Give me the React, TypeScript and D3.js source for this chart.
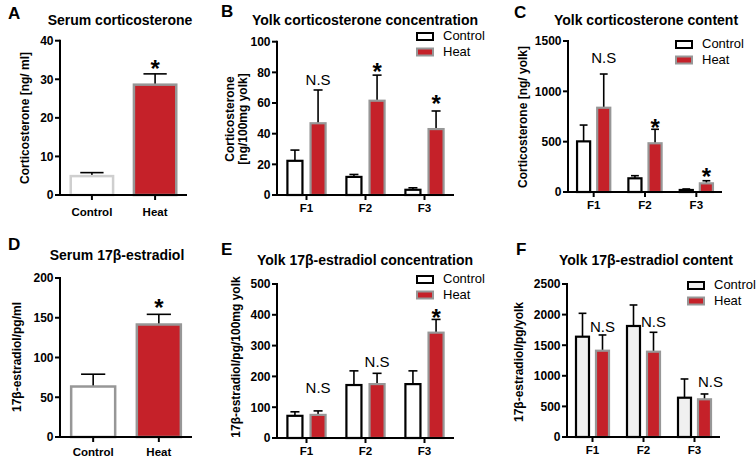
import React from 'react';
import * as d3 from 'd3';

// ---------- data ----------
const treatments = ['Control', 'Heat'];
const fractions = ['F1', 'F2', 'F3'];

// A: serum corticosterone (ng/ml)
const serumCortMean = [4.9, 28.6];
const serumCortSem = [0.9, 2.8];
const serumCortAnn = ['', '*'];
const serumCortAnnLevel = [0, 34];

// B: yolk corticosterone concentration (ng/100mg yolk)
const yolkCortConcControl = [22.3, 11.8, 3.4];
const yolkCortConcControlSem = [7.0, 1.6, 1.3];
const yolkCortConcHeat = [46.8, 61.5, 43.0];
const yolkCortConcHeatSem = [21.7, 16.7, 11.8];
const yolkCortConcAnn = ['N.S', '*', '*'];
const yolkCortConcAnnLevel = [71.7, 83.5, 62.6];

// C: yolk corticosterone content (ng/yolk)
const yolkCortContControl = [503, 136, 20];
const yolkCortContControlSem = [162, 26, 10];
const yolkCortContHeat = [837, 484, 86];
const yolkCortContHeatSem = [335, 139, 26];
const yolkCortContAnn = ['N.S', '*', '*'];
const yolkCortContAnnLevel = [1281, 685, 199];

// D: serum 17β-estradiol (pg/ml)
const serumE2Mean = [63.5, 141.5];
const serumE2Sem = [15.5, 12.8];
const serumE2Ann = ['', '*'];
const serumE2AnnLevel = [0, 168];

// E: yolk 17β-estradiol concentration (pg/100mg yolk)
const yolkE2ConcControl = [72, 172, 175];
const yolkE2ConcControlSem = [13, 46, 43];
const yolkE2ConcHeat = [75, 175, 342];
const yolkE2ConcHeatSem = [13, 35, 43];
const yolkE2ConcAnn = ['N.S', 'N.S', '*'];
const yolkE2ConcAnnLevel = [146, 230, 407];

// F: yolk 17β-estradiol content (pg/yolk)
const yolkE2ContControl = [1639, 1814, 642];
const yolkE2ContControlSem = [382, 343, 306];
const yolkE2ContHeat = [1410, 1394, 616];
const yolkE2ContHeatSem = [257, 317, 87];
const yolkE2ContAnn = ['N.S', 'N.S', 'N.S'];
const yolkE2ContAnnLevel = [1716, 1797, 817];

// ---------- styles ----------
const FONT = "'Liberation Sans', Arial, Helvetica, sans-serif";
const RED = '#c52129';
const HEAT_STROKE = '#979797';
const heatStyle = { fill: RED, stroke: HEAT_STROKE };

type Style = { fill: string; stroke: string };

function YAxis({ y, x0, ticks }: { y: d3.ScaleLinear<number, number>; x0: number; ticks: number[] }) {
  return (
    <g>
      <line x1={x0} x2={x0} y1={y(0) + 1} y2={y(ticks[ticks.length - 1]) - 1} stroke="#000" strokeWidth={2} />
      {ticks.map((t) => (
        <g key={t}>
          <line x1={x0 - 5} x2={x0} y1={y(t)} y2={y(t)} stroke="#000" strokeWidth={2} />
          <text x={x0 - 6.5} y={y(t)} dy="0.36em" textAnchor="end" fontSize={12} fontWeight="bold">
            {t}
          </text>
        </g>
      ))}
    </g>
  );
}

function YLabel({ x, y, lines }: { x: number; y: number; lines: string[] }) {
  return (
    <g transform={`translate(${x},${y}) rotate(-90)`}>
      {lines.map((l, i) => (
        <text key={i} x={0} y={i * 12.5} textAnchor="middle" fontSize={12} fontWeight="bold">
          {l}
        </text>
      ))}
    </g>
  );
}

function ErrorBar({ cx, yTop, yBar, w }: { cx: number; yTop: number; yBar: number; w: number }) {
  return (
    <g stroke="#000" strokeWidth={1.6}>
      <line x1={cx} x2={cx} y1={yBar} y2={yTop} />
      <line x1={cx - w / 2} x2={cx + w / 2} y1={yTop} y2={yTop} />
    </g>
  );
}

function Annot({ x, y, text }: { x: number; y: number; text: string }) {
  if (!text) return null;
  if (text === '*') {
    return (
      <text x={x} y={y + 13} textAnchor="middle" fontSize={24} fontWeight="bold">
        *
      </text>
    );
  }
  return (
    <text x={x} y={y} textAnchor="middle" fontSize={15}>
      {text}
    </text>
  );
}

function Legend({ x, y, controlStyle }: { x: number; y: number; controlStyle: Style }) {
  const styles = [controlStyle, heatStyle];
  return (
    <g>
      {treatments.map((t, i) => (
        <g key={t} transform={`translate(${x},${y + i * 15.5})`}>
          <rect x={0} y={-7} width={16} height={7} fill={styles[i].fill} stroke={styles[i].stroke} strokeWidth={2} />
          <text x={26} y={0} fontSize={13}>
            {t}
          </text>
        </g>
      ))}
    </g>
  );
}

type SimpleProps = {
  letter: string; letterPos: [number, number];
  title: string; titlePos: [number, number];
  ylabel: string[]; ylabelPos: [number, number];
  xRange: [number, number]; yRange: [number, number];
  yMax: number; tickStep: number;
  means: number[]; sems: number[]; ann: string[]; annLevel: number[];
  controlStyle: Style; xLabelDy: number;
};

function SimplePanel(p: SimpleProps) {
  const x = d3.scaleBand<string>().domain(treatments).range(p.xRange).paddingInner(0.33).paddingOuter(0.17);
  const y = d3.scaleLinear().domain([0, p.yMax]).range(p.yRange);
  const ticks = d3.range(0, p.yMax + 1e-9, p.tickStep);
  const styles = [p.controlStyle, heatStyle];
  const bw = x.bandwidth();
  return (
    <g>
      <text x={p.letterPos[0]} y={p.letterPos[1]} fontSize={17} fontWeight="bold">{p.letter}</text>
      <text x={p.titlePos[0]} y={p.titlePos[1]} fontSize={14} fontWeight="bold" textAnchor="middle">{p.title}</text>
      <YLabel x={p.ylabelPos[0]} y={p.ylabelPos[1]} lines={p.ylabel} />
      {treatments.map((t, i) => {
        const x0 = x(t)!;
        const cx = x0 + bw / 2;
        return (
          <g key={t}>
            <ErrorBar cx={cx} yBar={y(p.means[i])} yTop={y(p.means[i] + p.sems[i])} w={bw * 0.55} />
            <rect x={x0} y={y(p.means[i])} width={bw} height={y(0) - y(p.means[i])} fill={styles[i].fill} stroke={styles[i].stroke} strokeWidth={2.5} />
            <Annot x={cx} y={y(p.annLevel[i])} text={p.ann[i]} />
          </g>
        );
      })}
      <YAxis y={y} x0={p.xRange[0]} ticks={ticks} />
      <line x1={p.xRange[0] - 1} x2={p.xRange[1]} y1={y(0)} y2={y(0)} stroke="#000" strokeWidth={2} />
      {treatments.map((t) => {
        const cx = x(t)! + bw / 2;
        return (
          <g key={t}>
            <line x1={cx} x2={cx} y1={y(0)} y2={y(0) + 5} stroke="#000" strokeWidth={2} />
            <text x={cx} y={y(0) + p.xLabelDy} textAnchor="middle" fontSize={11.5} fontWeight="bold">{t}</text>
          </g>
        );
      })}
    </g>
  );
}

type GroupProps = {
  letter: string; letterPos: [number, number];
  title: string; titlePos: [number, number];
  ylabel: string[]; ylabelPos: [number, number];
  xRange: [number, number]; yRange: [number, number];
  yMax: number; tickStep: number;
  control: number[]; controlSem: number[]; heat: number[]; heatSem: number[];
  ann: string[]; annLevel: number[]; annShift?: number[];
  controlStyle: Style; legendPos: [number, number];
};

function GroupPanel(p: GroupProps) {
  const x = d3.scaleBand<string>().domain(fractions).range(p.xRange);
  const inner = d3.scaleBand<string>().domain(treatments).range([0, x.bandwidth()]).paddingInner(0.35).paddingOuter(0.45);
  const y = d3.scaleLinear().domain([0, p.yMax]).range(p.yRange);
  const ticks = d3.range(0, p.yMax + 1e-9, p.tickStep);
  const styles = [p.controlStyle, heatStyle];
  const bw = inner.bandwidth();
  const vals = [p.control, p.heat];
  const sems = [p.controlSem, p.heatSem];
  return (
    <g>
      <text x={p.letterPos[0]} y={p.letterPos[1]} fontSize={17} fontWeight="bold">{p.letter}</text>
      <text x={p.titlePos[0]} y={p.titlePos[1]} fontSize={14} fontWeight="bold" textAnchor="middle">{p.title}</text>
      <YLabel x={p.ylabelPos[0]} y={p.ylabelPos[1]} lines={p.ylabel} />
      <Legend x={p.legendPos[0]} y={p.legendPos[1]} controlStyle={p.controlStyle} />
      {fractions.map((f, gi) => (
        <g key={f}>
          {treatments.map((t, si) => {
            const x0 = x(f)! + inner(t)!;
            const cx = x0 + bw / 2;
            const v = vals[si][gi];
            return (
              <g key={t}>
                <ErrorBar cx={cx} yBar={y(v)} yTop={y(v + sems[si][gi])} w={bw * 0.6} />
                <rect x={x0} y={y(v)} width={bw} height={y(0) - y(v)} fill={styles[si].fill} stroke={styles[si].stroke} strokeWidth={2.2} />
              </g>
            );
          })}
          <Annot
            x={x(f)! + inner('Heat')! + bw / 2 + (p.annShift ? p.annShift[gi] : 0)}
            y={y(p.annLevel[gi])}
            text={p.ann[gi]}
          />
        </g>
      ))}
      <YAxis y={y} x0={p.xRange[0]} ticks={ticks} />
      <line x1={p.xRange[0] - 1} x2={p.xRange[1]} y1={y(0)} y2={y(0)} stroke="#000" strokeWidth={2} />
      {fractions.map((f) => {
        const cx = x(f)! + x.bandwidth() / 2;
        return (
          <g key={f}>
            <line x1={cx} x2={cx} y1={y(0)} y2={y(0) + 5} stroke="#000" strokeWidth={2} />
            <text x={cx} y={y(0) + 17} textAnchor="middle" fontSize={11.5} fontWeight="bold">{f}</text>
          </g>
        );
      })}
    </g>
  );
}

export default function App() {
  return (
    <svg
      width={756}
      height={458}
      viewBox="0 0 756 458"
      style={{ position: 'absolute', left: 0, top: 0, background: '#fff' }}
      fontFamily={FONT}
    >
      <rect width={756} height={458} fill="#fff" />
      <SimplePanel
        letter="A" letterPos={[8, 19]}
        title="Serum corticosterone" titlePos={[120, 25]}
        ylabel={['Corticosterone [ng/ ml]']} ylabelPos={[29, 118]}
        xRange={[60, 187]} yRange={[195, 40.7]} yMax={40} tickStep={10}
        means={serumCortMean} sems={serumCortSem} ann={serumCortAnn} annLevel={serumCortAnnLevel}
        controlStyle={{ fill: '#fff', stroke: '#cfcfcf' }} xLabelDy={21}
      />
      <GroupPanel
        letter="B" letterPos={[221, 17]}
        title="Yolk corticosterone concentration" titlePos={[365, 25]}
        ylabel={['Corticosterone', '[ng/100mg yolk]']} ylabelPos={[234, 119]}
        xRange={[277, 454]} yRange={[195, 41.7]} yMax={100} tickStep={20}
        control={yolkCortConcControl} controlSem={yolkCortConcControlSem}
        heat={yolkCortConcHeat} heatSem={yolkCortConcHeatSem}
        ann={yolkCortConcAnn} annLevel={yolkCortConcAnnLevel}
        controlStyle={{ fill: '#fff', stroke: '#000' }} legendPos={[417, 40]}
      />
      <GroupPanel
        letter="C" letterPos={[514, 18]}
        title="Yolk corticosterone content" titlePos={[646, 25]}
        ylabel={['Corticosterone [ng/ yolk]']} ylabelPos={[527, 117]}
        xRange={[568, 722]} yRange={[192, 41]} yMax={1500} tickStep={500}
        control={yolkCortContControl} controlSem={yolkCortContControlSem}
        heat={yolkCortContHeat} heatSem={yolkCortContHeatSem}
        ann={yolkCortContAnn} annLevel={yolkCortContAnnLevel}
        controlStyle={{ fill: '#fff', stroke: '#000' }} legendPos={[676, 48]}
      />
      <SimplePanel
        letter="D" letterPos={[8, 250]}
        title="Serum 17β-estradiol" titlePos={[117, 260]}
        ylabel={['17β-estradiol/pg/ml']} ylabelPos={[21, 357]}
        xRange={[60, 192]} yRange={[437, 278]} yMax={200} tickStep={50}
        means={serumE2Mean} sems={serumE2Sem} ann={serumE2Ann} annLevel={serumE2AnnLevel}
        controlStyle={{ fill: '#fff', stroke: '#979797' }} xLabelDy={19}
      />
      <GroupPanel
        letter="E" letterPos={[221, 255]}
        title="Yolk 17β-estradiol concentration" titlePos={[365, 265]}
        ylabel={['17β-estradiol/pg/100mg yolk']} ylabelPos={[240, 357]}
        xRange={[277, 454]} yRange={[438, 284]} yMax={500} tickStep={100}
        control={yolkE2ConcControl} controlSem={yolkE2ConcControlSem}
        heat={yolkE2ConcHeat} heatSem={yolkE2ConcHeatSem}
        ann={yolkE2ConcAnn} annLevel={yolkE2ConcAnnLevel}
        controlStyle={{ fill: '#fff', stroke: '#000' }} legendPos={[417, 283]}
      />
      <GroupPanel
        letter="F" letterPos={[516, 255]}
        title="Yolk 17β-estradiol content" titlePos={[646, 265]}
        ylabel={['17β-estradiol/pg/yolk']} ylabelPos={[523, 362]}
        xRange={[567, 720]} yRange={[437, 284]} yMax={2500} tickStep={500}
        control={yolkE2ContControl} controlSem={yolkE2ContControlSem}
        heat={yolkE2ContHeat} heatSem={yolkE2ContHeatSem}
        ann={yolkE2ContAnn} annLevel={yolkE2ContAnnLevel} annShift={[0, 0, 6]}
        controlStyle={{ fill: '#f0f0f0', stroke: '#000' }} legendPos={[688, 289]}
      />
    </svg>
  );
}
